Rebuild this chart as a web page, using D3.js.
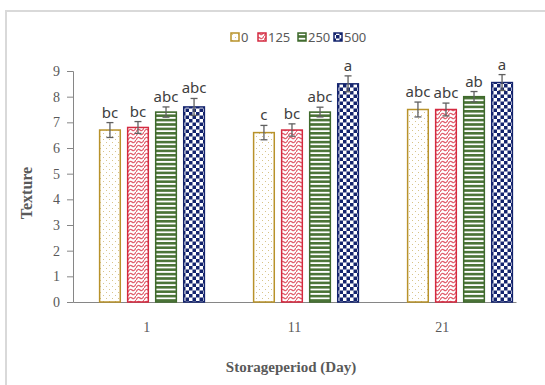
<!DOCTYPE html>
<html>
<head>
<meta charset="utf-8">
<script src="https://cdn.jsdelivr.net/npm/d3@7"></script>
<style>
    body { margin: 0; background: #fff; }
    .tick-label { font-family: 'Liberation Serif', serif; font-size: 14px; fill: #595959; }
    .axis-title { font-family: 'Liberation Serif', serif; font-weight: bold; fill: #595959; }
    .sig { font-family: 'Noto Sans', sans-serif; font-size: 15px; fill: #404040; }
    .legend-text { font-family: 'Noto Sans', sans-serif; font-size: 13px; fill: #595959; }
</style>
</head>
<body>
<svg id="chart" width="545" height="385"></svg>
<script>
// storage period (days) and treatment levels
const days = ['1', '11', '21']
const levels = ['0', '125', '250', '500']

// texture means per level, one value per day
const means = {
    '0':   [6.7, 6.6, 7.5],
    '125': [6.8, 6.7, 7.5],
    '250': [7.4, 7.4, 8.0],
    '500': [7.6, 8.5, 8.55]
}
const errors = {
    '0':   [0.29, 0.28, 0.29],
    '125': [0.23, 0.24, 0.25],
    '250': [0.2, 0.19, 0.2],
    '500': [0.33, 0.31, 0.31]
}
const letters = {
    '0':   ['bc', 'c', 'abc'],
    '125': ['bc', 'bc', 'abc'],
    '250': ['abc', 'abc', 'ab'],
    '500': ['abc', 'a', 'a']
}
const yTicks = [0, 1, 2, 3, 4, 5, 6, 7, 8, 9]

const colors = { '0': '#b8922a', '125': '#d42a40', '250': '#3f6a2c', '500': '#14246e' }

const svg = d3.select('#chart')

// chart frame
svg.append('path')
    .attr('d', 'M6,385 V11 H545')
    .attr('fill', 'none')
    .attr('stroke', '#d9d9d9')
    .attr('stroke-width', 2)

// fill patterns
const defs = svg.append('defs')

let p = defs.append('pattern').attr('id', 'pat-0').attr('patternUnits', 'userSpaceOnUse')
    .attr('width', 6).attr('height', 6)
p.append('rect').attr('width', 6).attr('height', 6).attr('fill', '#fff')
p.append('rect').attr('x', 1).attr('y', 1).attr('width', 1).attr('height', 1).attr('fill', '#d8c48a')
p.append('rect').attr('x', 4).attr('y', 4).attr('width', 1).attr('height', 1).attr('fill', '#d8c48a')

p = defs.append('pattern').attr('id', 'pat-125').attr('patternUnits', 'userSpaceOnUse')
    .attr('width', 8).attr('height', 8)
p.append('rect').attr('width', 8).attr('height', 8).attr('fill', '#fff')
p.append('path').attr('d', 'M0,4 Q2,0 4,2 T8,0 M0,8 Q2,4 4,6 T8,4')
    .attr('fill', 'none').attr('stroke', '#e0606e').attr('stroke-width', 1.3)

p = defs.append('pattern').attr('id', 'pat-250').attr('patternUnits', 'userSpaceOnUse')
    .attr('width', 4).attr('height', 4.4)
p.append('rect').attr('width', 4).attr('height', 4.4).attr('fill', '#fff')
p.append('rect').attr('y', 0).attr('width', 4).attr('height', 2.6).attr('fill', '#4a7336')

p = defs.append('pattern').attr('id', 'pat-500').attr('patternUnits', 'userSpaceOnUse')
    .attr('width', 7).attr('height', 7)
p.append('rect').attr('width', 7).attr('height', 7).attr('fill', '#fff')
p.append('rect').attr('width', 3.5).attr('height', 3.5).attr('fill', '#14246e')
p.append('rect').attr('x', 3.5).attr('y', 3.5).attr('width', 3.5).attr('height', 3.5).attr('fill', '#14246e')

// scales
const yScale = d3.scaleLinear().domain([0, 9]).range([302, 71])
const xAxisScale = d3.scaleBand().domain(days).range([73, 516])
const xGroup = d3.scaleBand().domain(days).range([75, 537]).paddingInner(0.31).paddingOuter(0.155)
const xBar = d3.scaleBand().domain(levels).range([0, xGroup.bandwidth()]).paddingInner(0.21)

// y axis
const yAxis = svg.append('g')
    .attr('transform', 'translate(73,0)')
    .call(d3.axisLeft(yScale).tickValues(yTicks).tickSize(6).tickPadding(7))
yAxis.select('.domain').attr('stroke', '#868686')
yAxis.selectAll('.tick line').attr('stroke', '#868686')
yAxis.selectAll('.tick text').attr('class', 'tick-label').attr('font-size', null).attr('font-family', null)

// x axis
const xAxis = svg.append('g')
    .attr('transform', 'translate(0,302)')
    .call(d3.axisBottom(xAxisScale).tickSize(0).tickPadding(20))
xAxis.select('.domain').attr('stroke', '#868686')
xAxis.selectAll('.tick text').attr('class', 'tick-label').attr('font-size', null).attr('font-family', null)

// bars
const rows = []
levels.forEach(l => days.forEach((d, i) => rows.push({
    level: l, day: d, value: means[l][i], err: errors[l][i], letter: letters[l][i]
})))

const bars = svg.append('g')
bars.selectAll('.bar')
    .data(rows)
    .join('rect')
    .attr('class', 'bar')
    .attr('x', d => xGroup(d.day) + xBar(d.level) + 0.75)
    .attr('y', d => yScale(d.value))
    .attr('width', xBar.bandwidth() - 1.5)
    .attr('height', d => yScale(0) - yScale(d.value))
    .attr('fill', d => `url(#pat-${d.level})`)
    .attr('stroke', d => colors[d.level])
    .attr('stroke-width', 1.5)

// error bars
const errG = svg.append('g').attr('stroke', '#606060').attr('stroke-width', 1.3)
rows.forEach(d => {
    const cx = xGroup(d.day) + xBar(d.level) + xBar.bandwidth() / 2
    const y1 = yScale(d.value + d.err), y2 = yScale(d.value - d.err)
    errG.append('line').attr('x1', cx).attr('x2', cx).attr('y1', y1).attr('y2', y2)
    errG.append('line').attr('x1', cx - 3.5).attr('x2', cx + 3.5).attr('y1', y1).attr('y2', y1)
    errG.append('line').attr('x1', cx - 3.5).attr('x2', cx + 3.5).attr('y1', y2).attr('y2', y2)
})

// significance letters
svg.append('g').selectAll('.sig')
    .data(rows)
    .join('text')
    .attr('class', 'sig')
    .attr('text-anchor', 'middle')
    .attr('x', d => xGroup(d.day) + xBar(d.level) + xBar.bandwidth() / 2)
    .attr('y', d => yScale(d.value + d.err) - 5)
    .text(d => d.letter)

// legend
const legendX = { '0': 231, '125': 258, '250': 298, '500': 334 }
const legend = svg.append('g')
levels.forEach(l => {
    legend.append('rect')
        .attr('x', legendX[l]).attr('y', 33)
        .attr('width', 8).attr('height', 8)
        .attr('fill', `url(#pat-${l})`)
        .attr('stroke', colors[l]).attr('stroke-width', 1.5)
    legend.append('text')
        .attr('class', 'legend-text')
        .attr('x', legendX[l] + 10).attr('y', 42)
        .text(l)
})

// axis titles
svg.append('text')
    .attr('class', 'axis-title')
    .attr('font-size', 16)
    .attr('text-anchor', 'middle')
    .attr('transform', 'translate(32,193) rotate(-90)')
    .text('Texture')

svg.append('text')
    .attr('class', 'axis-title')
    .attr('font-size', 15)
    .attr('text-anchor', 'middle')
    .attr('x', 291).attr('y', 372)
    .text('Storageperiod (Day)')
</script>
</body>
</html>
